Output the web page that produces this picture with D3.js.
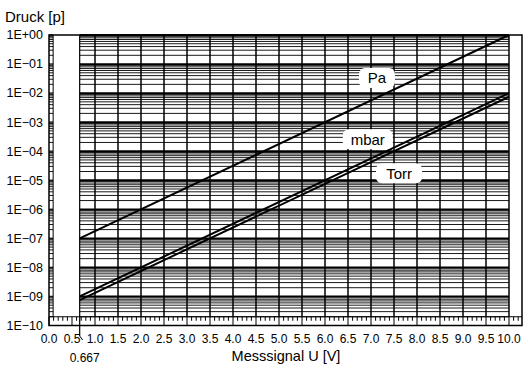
<!DOCTYPE html>
<html>
<head>
<meta charset="utf-8">
<script src="https://cdn.jsdelivr.net/npm/d3@7/dist/d3.min.js"></script>
<style>
  body { margin: 0; background: #fff; }
  text { font-family: "Liberation Sans", Arial, Helvetica, sans-serif; fill: #000; }
</style>
</head>
<body>
<script>
// data: pressure vs. signal, straight lines on log axis
const units = ["Pa", "mbar", "Torr"];
const signal = [0.667, 10];
const paValues = [1e-7, 1];
const mbarValues = [1e-9, 1e-2];
const torrValues = [7.5e-10, 7.5e-3];
const xTicks = d3.range(0, 10.01, 0.5);
const yTickLabels = ["1E+00", "1E\u221201", "1E\u221202", "1E\u221203", "1E\u221204", "1E\u221205",
                     "1E\u221206", "1E\u221207", "1E\u221208", "1E\u221209", "1E\u221210"];

const series = [paValues, mbarValues, torrValues];

const width = 527, height = 367;
const svg = d3.select("body").append("svg")
    .attr("width", width).attr("height", height);

const x = d3.scaleLinear().domain([0, 10]).range([49, 509]);
const y = d3.scaleLog().domain([1e-10, 1]).range([325.5, 35]);
const frameRight = 522;
const stripTop = y(2e-10);

// log grid values
let logVals = [];
for (let n = -10; n < 0; n++)
    for (let k = 1; k <= 9; k++) logVals.push(k * Math.pow(10, n));
logVals.push(1);
const gridVals = logVals.filter(d => d >= 1.9e-10);
const isDecade = d => Math.abs(Math.log10(d) % 1) < 1e-9;

// horizontal grid lines (only in 0.667 .. 10)
svg.append("g").selectAll("line")
    .data(gridVals)
    .enter().append("line")
    .attr("x1", x(signal[0])).attr("x2", x(10))
    .attr("y1", d => y(d)).attr("y2", d => y(d))
    .attr("stroke", d => isDecade(d) ? "#000" : "#1a1a1a")
    .attr("stroke-width", d => isDecade(d) ? 1.8 : 1);

// small ticks in the left strip
svg.append("g").selectAll("line")
    .data(gridVals)
    .enter().append("line")
    .attr("x1", x(0)).attr("x2", x(0.09))
    .attr("y1", d => y(d)).attr("y2", d => y(d))
    .attr("stroke", "#1a1a1a")
    .attr("stroke-width", d => isDecade(d) ? 1.4 : 1);
svg.append("line")
    .attr("x1", x(0.09)).attr("x2", x(0.09))
    .attr("y1", y(1)).attr("y2", stripTop)
    .attr("stroke", "#000").attr("stroke-width", 1);

// vertical grid lines
const vLines = [signal[0]].concat(xTicks.filter(d => d >= 1));
svg.append("g").selectAll("line")
    .data(vLines)
    .enter().append("line")
    .attr("x1", d => x(d)).attr("x2", d => x(d))
    .attr("y1", y(1)).attr("y2", d => d === signal[0] ? 336 : stripTop)
    .attr("stroke", "#000").attr("stroke-width", d => d === signal[0] ? 1.2 : 1.5);

// bottom tick strip
svg.append("line")
    .attr("x1", x(0)).attr("x2", frameRight)
    .attr("y1", stripTop).attr("y2", stripTop)
    .attr("stroke", "#000").attr("stroke-width", 1.2);
const minor = d3.range(0, 103).map(i => i / 10).filter(d => x(d) < frameRight - 1);
svg.append("g").selectAll("line")
    .data(minor)
    .enter().append("line")
    .attr("x1", d => x(d)).attr("x2", d => x(d))
    .attr("y1", stripTop)
    .attr("y2", d => Math.abs(d * 2 - Math.round(d * 2)) < 1e-6 ? y(1e-10) : stripTop + 4)
    .attr("stroke", "#000").attr("stroke-width", 1);

// callout for 0.667
svg.append("path")
    .attr("d", "M" + x(signal[0]) + ",336 L" + (x(signal[0]) + 3) + ",340")
    .attr("fill", "none").attr("stroke", "#000").attr("stroke-width", 1);
svg.append("text")
    .attr("x", x(signal[0]) + 5).attr("y", 362)
    .attr("text-anchor", "middle")
    .style("font-size", "12px")
    .text("0.667");

// data lines
const line = d3.line().x((d, i) => x(signal[i])).y(d => y(d));
svg.append("g").selectAll("path")
    .data(series)
    .enter().append("path")
    .attr("d", d => line(d))
    .attr("fill", "none").attr("stroke", "#000").attr("stroke-width", 2);

// frame
svg.append("rect")
    .attr("x", x(0)).attr("y", y(1))
    .attr("width", frameRight - x(0)).attr("height", y(1e-10) - y(1))
    .attr("fill", "none").attr("stroke", "#000").attr("stroke-width", 1.5);

// series labels
const labelAt = [[7.13, 3.3e-2, 36], [6.93, 2.6e-4, 50], [7.61, 1.75e-5, 46]];
const lab = svg.append("g").selectAll("g")
    .data(units)
    .enter().append("g")
    .attr("transform", (d, i) => "translate(" + x(labelAt[i][0]) + "," + y(labelAt[i][1]) + ")");
lab.append("rect")
    .attr("x", (d, i) => -labelAt[i][2] / 2).attr("y", -10)
    .attr("width", (d, i) => labelAt[i][2]).attr("height", 20)
    .attr("rx", 6).attr("fill", "#fff");
lab.append("text")
    .attr("text-anchor", "middle").attr("dy", "0.36em")
    .style("font-size", "15px")
    .text(d => d);

// y tick labels
svg.append("g").selectAll("text")
    .data(yTickLabels)
    .enter().append("text")
    .attr("x", 43)
    .attr("y", (d, i) => y(Math.pow(10, -i)))
    .attr("dy", "0.35em")
    .attr("text-anchor", "end")
    .style("font-size", "12.5px")
    .text(d => d);

// x tick labels
svg.append("g").selectAll("text")
    .data(xTicks)
    .enter().append("text")
    .attr("x", d => x(d))
    .attr("y", 343)
    .attr("text-anchor", "middle")
    .style("font-size", "12px")
    .text(d => d3.format(".1f")(d));

// titles
svg.append("text")
    .attr("x", 5).attr("y", 22)
    .style("font-size", "15px")
    .text("Druck [p]");
svg.append("text")
    .attr("x", 286).attr("y", 361)
    .attr("text-anchor", "middle")
    .style("font-size", "14.5px")
    .text("Messsignal U [V]");
</script>
</body>
</html>
